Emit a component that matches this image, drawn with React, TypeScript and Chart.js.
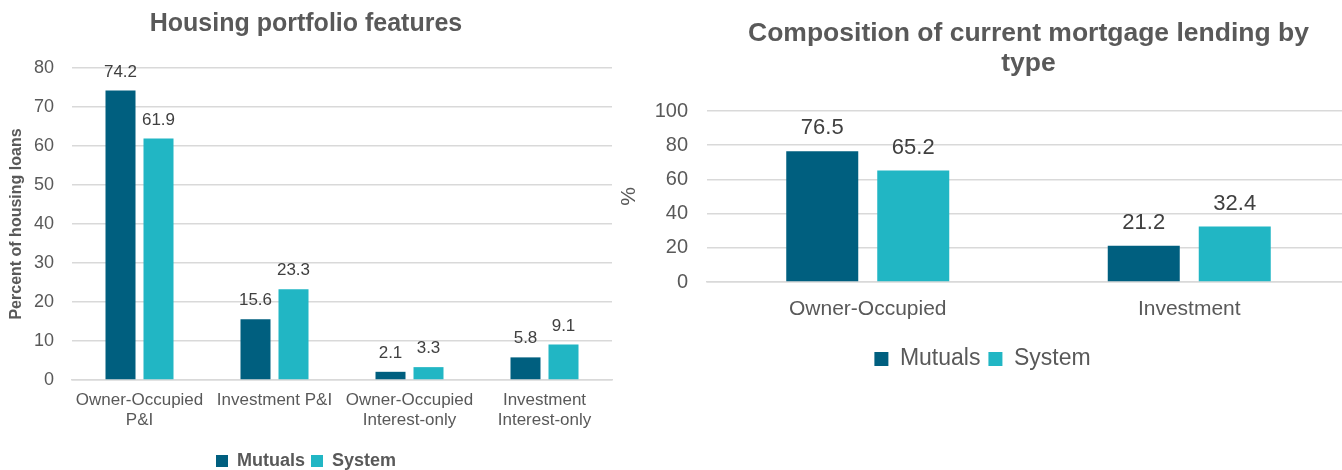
import React, { useEffect, useRef } from "react";
import { Chart, registerables } from "chart.js";

Chart.register(...registerables);

const FONT = '"Liberation Sans", Arial, sans-serif';

// ---- Left chart data ----
const leftTitle = "Housing portfolio features";
const leftCategories: (string | string[])[] = [
  ["Owner-Occupied", "P&I"],
  "Investment P&I",
  ["Owner-Occupied", "Interest-only"],
  ["Investment", "Interest-only"],
];
const leftMutuals = [74.2, 15.6, 2.1, 5.8];
const leftSystem = [61.9, 23.3, 3.3, 9.1];
const leftYTitle = "Percent of housing loans";

// ---- Right chart data ----
const rightTitle = ["Composition of current mortgage lending by", "type"];
const rightCategories = ["Owner-Occupied", "Investment"];
const rightMutuals = [76.5, 21.2];
const rightSystem = [65.2, 32.4];
const rightYTitle = "%";

const seriesNames = ["Mutuals", "System"];
const MUTUALS_COLOR = "#005F7F";
const SYSTEM_COLOR = "#21B6C4";
const GRID = "#d9d9d9";
const TEXT = "#595959";
const LABEL = "#404040";

const dataLabels = (size: number, gap: number) => ({
  id: "dataLabels" + size,
  afterDatasetsDraw(chart: any) {
    const ctx = chart.ctx;
    ctx.save();
    ctx.font = `${size}px ${FONT}`;
    ctx.fillStyle = LABEL;
    ctx.textAlign = "center";
    ctx.textBaseline = "alphabetic";
    chart.data.datasets.forEach((ds: any, i: number) => {
      const meta = chart.getDatasetMeta(i);
      meta.data.forEach((el: any, j: number) => {
        const v = ds.data[j] as number;
        ctx.fillText(v.toFixed(1), el.x, el.y - gap);
      });
    });
    ctx.restore();
  },
});

function makeConfig(opts: {
  categories: any[];
  mutuals: number[];
  system: number[];
  title: string | string[];
  titleFont: number;
  titleLH: number;
  titlePad: { top: number; bottom: number };
  titleFull: boolean;
  yTitle: string;
  yTitleFont: { size: number; weight: string };
  yTitlePad: number;
  yMax: number;
  yStep: number;
  yWidth: number;
  yTickFont: number;
  yTickPad: number;
  xFont: number;
  xLH: number;
  xPad: number;
  xHeight: number;
  legendFont: { size: number; weight: string };
  legendBox: number;
  legendPad: number;
  catPct: number;
  barPct: number;
  padding: any;
  labelSize: number;
  labelGap: number;
}) {
  return {
    type: "bar" as const,
    data: {
      labels: opts.categories,
      datasets: [
        {
          label: seriesNames[0],
          data: opts.mutuals,
          backgroundColor: MUTUALS_COLOR,
          borderWidth: 0,
          categoryPercentage: opts.catPct,
          barPercentage: opts.barPct,
        },
        {
          label: seriesNames[1],
          data: opts.system,
          backgroundColor: SYSTEM_COLOR,
          borderWidth: 0,
          categoryPercentage: opts.catPct,
          barPercentage: opts.barPct,
        },
      ],
    },
    options: {
      responsive: false,
      animation: false as const,
      devicePixelRatio: 1,
      layout: { padding: opts.padding },
      plugins: {
        tooltip: { enabled: false },
        title: {
          display: true,
          text: opts.title,
          color: TEXT,
          fullSize: opts.titleFull,
          font: { family: FONT, size: opts.titleFont, weight: "bold", lineHeight: opts.titleLH },
          padding: opts.titlePad,
        },
        legend: {
          position: "bottom" as const,
          fullSize: true,
          labels: {
            color: TEXT,
            font: { family: FONT, size: opts.legendFont.size, weight: opts.legendFont.weight },
            boxWidth: opts.legendBox,
            boxHeight: opts.legendBox,
            padding: opts.legendPad,
          },
        },
      },
      scales: {
        x: {
          grid: { display: false, drawTicks: false },
          border: { display: true, color: GRID, width: 1.5 },
          ticks: {
            color: TEXT,
            padding: opts.xPad,
            maxRotation: 0,
            autoSkip: false,
            font: { family: FONT, size: opts.xFont, lineHeight: opts.xLH },
          },
          afterFit: (s: any) => {
            s.height = opts.xHeight;
          },
        },
        y: {
          min: 0,
          max: opts.yMax,
          grid: { color: GRID, lineWidth: 1.5, drawTicks: false },
          border: { display: false },
          ticks: {
            stepSize: opts.yStep,
            color: TEXT,
            padding: opts.yTickPad,
            font: { family: FONT, size: opts.yTickFont },
          },
          title: {
            display: true,
            text: opts.yTitle,
            color: TEXT,
            font: { family: FONT, size: opts.yTitleFont.size, weight: opts.yTitleFont.weight },
            padding: { top: opts.yTitlePad, bottom: 0 },
          },
          afterFit: (s: any) => {
            s.width = opts.yWidth;
          },
        },
      },
    },
    plugins: [dataLabels(opts.labelSize, opts.labelGap)],
  };
}

export default function App() {
  const leftRef = useRef<HTMLCanvasElement>(null);
  const rightRef = useRef<HTMLCanvasElement>(null);

  useEffect(() => {
    const left = new Chart(
      leftRef.current as HTMLCanvasElement,
      makeConfig({
        categories: leftCategories,
        mutuals: leftMutuals,
        system: leftSystem,
        title: leftTitle,
        titleFont: 25,
        titleLH: 1.2,
        titlePad: { top: 9, bottom: 29 },
        titleFull: true,
        yTitle: leftYTitle,
        yTitleFont: { size: 16, weight: "bold" },
        yTitlePad: 7,
        yMax: 80,
        yStep: 10,
        yWidth: 72,
        yTickFont: 18,
        yTickPad: 18,
        xFont: 17,
        xLH: 20 / 17,
        xPad: 10,
        xHeight: 66,
        legendFont: { size: 18, weight: "bold" },
        legendBox: 12,
        legendPad: 6,
        catPct: 76 / 135,
        barPct: 30 / 38,
        padding: { left: 0, right: 3, top: 0, bottom: 0 },
        labelSize: 17,
        labelGap: 14,
      }) as any
    );
    const right = new Chart(
      rightRef.current as HTMLCanvasElement,
      makeConfig({
        categories: rightCategories,
        mutuals: rightMutuals,
        system: rightSystem,
        title: rightTitle,
        titleFont: 26.5,
        titleLH: 30 / 26.5,
        titlePad: { top: 19, bottom: 32 },
        titleFull: false,
        yTitle: rightYTitle,
        yTitleFont: { size: 21, weight: "normal" },
        yTitlePad: 2,
        yMax: 100,
        yStep: 20,
        yWidth: 92,
        yTickFont: 20,
        yTickPad: 19,
        xFont: 21,
        xLH: 1.2,
        xPad: 15,
        xHeight: 57.5,
        legendFont: { size: 23, weight: "normal" },
        legendBox: 14,
        legendPad: 8,
        catPct: 182 / 321.5,
        barPct: 72 / 91,
        padding: { left: 0, right: 95, top: 0, bottom: 89.5 },
        labelSize: 22,
        labelGap: 17,
      }) as any
    );
    return () => {
      left.destroy();
      right.destroy();
    };
  }, []);

  return (
    <div
      style={{
        position: "absolute",
        left: 0,
        top: 0,
        width: 1342,
        height: 470,
        overflow: "hidden",
        background: "#ffffff",
      }}
    >
      <canvas
        ref={leftRef}
        width={615}
        height={480}
        style={{ position: "absolute", left: 0, top: 0, width: 615, height: 480 }}
      />
      <canvas
        ref={rightRef}
        width={830}
        height={470}
        style={{ position: "absolute", left: 615, top: 0, width: 830, height: 470 }}
      />
    </div>
  );
}
